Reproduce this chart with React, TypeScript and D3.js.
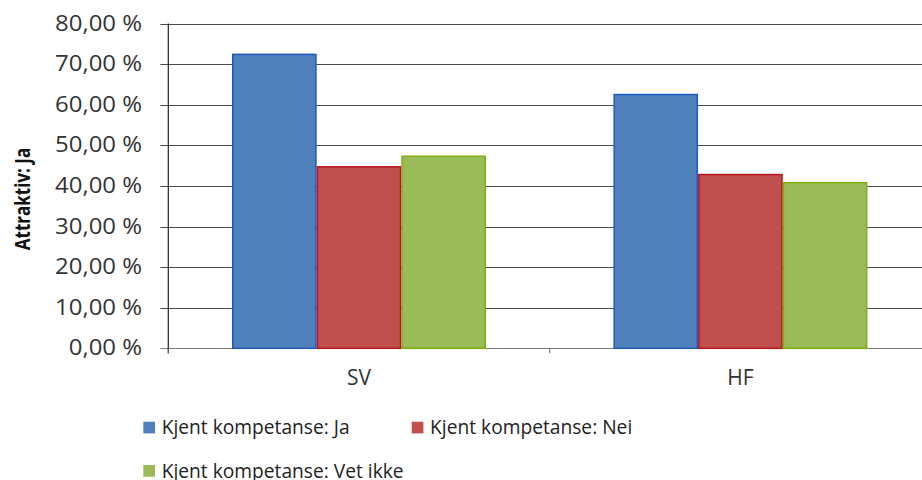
import React from "react";
import * as d3 from "d3";

const categories = ["SV", "HF"];
const seriesNames = [
  "Kjent kompetanse: Ja",
  "Kjent kompetanse: Nei",
  "Kjent kompetanse: Vet ikke",
];
const valuesJa = [0.724, 0.625];
const valuesNei = [0.447, 0.428];
const valuesVetIkke = [0.473, 0.408];
const yTicks = [0, 0.1, 0.2, 0.3, 0.4, 0.5, 0.6, 0.7, 0.8];
const yTitle = "Attraktiv: Ja";

const fills = ["#4F81BD", "#C0504D", "#9BBB59"];
const strokes = ["#1F58C0", "#B8141E", "#7DAE0A"];

const W = 922;
const H = 480;
const left = 168.3;
const bandW = 381.4;
const top = 23.5;
const bottom = 348.3;
const FONT = "'Open Sans', 'DejaVu Sans', sans-serif";

export default function App() {
  const seriesValues = [valuesJa, valuesNei, valuesVetIkke];
  const x = d3
    .scaleBand<string>()
    .domain(categories)
    .range([left, left + bandW * categories.length])
    .paddingInner(0)
    .paddingOuter(0);
  const xs = d3
    .scaleBand<string>()
    .domain(seriesNames)
    .range([63.7, bandW - 63.7])
    .paddingInner(0)
    .paddingOuter(0);
  const y = d3.scaleLinear().domain([0, 0.8]).range([bottom, top]);
  const fmt = (v: number) => d3.format(".2f")(v * 100).replace(".", ",") + " %";

  const rightEnd = left + bandW * categories.length;

  return (
    <svg
      width={W}
      height={H}
      style={{ position: "absolute", left: 0, top: 0, background: "#fff" }}
      fontFamily={FONT}
    >
      {/* gridlines */}
      {yTicks.map((t) => (
        <line
          key={"g" + t}
          x1={left - 8}
          x2={rightEnd}
          y1={Math.round(y(t)) + 0.5}
          y2={Math.round(y(t)) + 0.5}
          stroke={t === 0 ? "#7a7a7a" : "#4a4a4a"}
          strokeWidth={1}
        />
      ))}
      {/* bars */}
      {seriesNames.map((s, si) =>
        categories.map((c, ci) => {
          const v = seriesValues[si][ci];
          const bx = (x(c) as number) + (xs(s) as number);
          return (
            <rect
              key={s + c}
              x={bx + 0.75}
              y={y(v)}
              width={xs.bandwidth() - 1.5}
              height={bottom - y(v)}
              fill={fills[si]}
              stroke={strokes[si]}
              strokeWidth={1.5}
            />
          );
        })
      )}
      {/* y axis */}
      <line x1={left} x2={left} y1={top} y2={bottom + 5} stroke="#222" strokeWidth={1.2} />
      {/* category ticks */}
      {[...categories.map((c) => x(c) as number), rightEnd].map((px, i) => (
        <line key={"ct" + i} x1={px} x2={px} y1={bottom} y2={bottom + 5} stroke="#666" />
      ))}
      {/* y tick labels */}
      {yTicks.map((t) => (
        <text
          key={"l" + t}
          transform={`translate(142,${y(t) + 7}) scale(1.14,1)`}
          textAnchor="end"
          fontSize={21}
          fill="#333"
        >
          {fmt(t)}
        </text>
      ))}
      {/* category labels */}
      {categories.map((c) => (
        <text
          key={"c" + c}
          x={(x(c) as number) + bandW / 2}
          y={385}
          textAnchor="middle"
          fontSize={21}
          fill="#333"
        >
          {c}
        </text>
      ))}
      {/* y title */}
      <text
        transform={`translate(30,199) rotate(-90) scale(1,1.3)`}
        textAnchor="middle"
        fontSize={17}
        fontWeight="bold"
        fill="#111"
      >
        {yTitle}
      </text>
      {/* legend */}
      {seriesNames.map((s, i) => {
        const lx = i === 1 ? 411.7 : 143.3;
        const ly = i === 2 ? 465 : 421.7;
        return (
          <g key={"lg" + s}>
            <rect x={lx} y={ly} width={11.7} height={11.7} fill={fills[i]} />
            <text x={lx + 18.4} y={ly + 12.5} fontSize={19.2} fill="#222">
              {s}
            </text>
          </g>
        );
      })}
    </svg>
  );
}
